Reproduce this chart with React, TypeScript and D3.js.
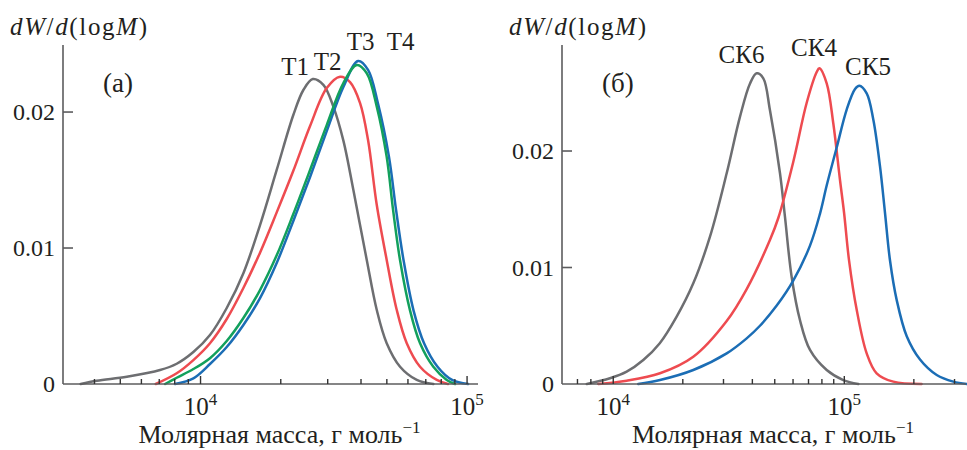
import { useEffect, useRef } from "react";
import * as d3 from "d3";

type Pt = [number, number];

// panel (а): molar mass, g/mol -> dW/d(logM)
const T1: Pt[] = [
  [3550, 0], [4080, 0.00024], [5290, 0.00054], [7050, 0.00103], [8140, 0.00149],
  [9400, 0.00235], [10850, 0.0036], [12540, 0.00559], [14480, 0.00815], [16720, 0.01169],
  [19310, 0.01574], [22290, 0.01978], [24310, 0.02162], [26360, 0.02243], [28900, 0.0220],
  [31500, 0.0204], [34350, 0.0179], [37450, 0.01426], [39340, 0.01206], [42040, 0.00912],
  [45840, 0.00544], [49940, 0.0030], [56050, 0.00127], [64750, 0.0003], [74720, 0],
];
const T2: Pt[] = [
  [6790, 0], [8140, 0.00079], [9400, 0.00176], [10850, 0.0030], [12540, 0.00478],
  [14480, 0.00706], [16720, 0.00966], [19310, 0.01262], [22290, 0.01568], [25760, 0.01897],
  [29750, 0.02176], [33380, 0.0226], [36390, 0.0222], [39680, 0.02066], [42510, 0.01794],
  [45840, 0.01316], [49940, 0.00912], [54480, 0.00544], [59390, 0.0030], [66620, 0.00127],
  [76950, 0.0003], [84840, 0],
];
const T3: Pt[] = [
  [7360, 0], [8140, 0.00046], [9400, 0.0011], [10850, 0.0019], [12540, 0.00316],
  [14480, 0.00485], [16720, 0.00691], [19310, 0.00946], [22290, 0.0125], [25760, 0.01574],
  [29750, 0.01904], [34350, 0.02213], [38570, 0.02346], [42040, 0.02285], [45840, 0.0204],
  [49940, 0.0167], [52770, 0.0128], [56050, 0.0091], [61110, 0.0054], [66620, 0.0030],
  [74720, 0.00127], [83890, 0.0003], [90150, 0],
];
const T4: Pt[] = [
  [8020, 0], [9400, 0.00042], [10850, 0.00147], [12540, 0.00272], [14480, 0.00434],
  [16720, 0.00632], [19310, 0.0089], [22290, 0.01199], [25760, 0.01522], [29750, 0.0186],
  [34350, 0.02184], [39000, 0.02375], [42510, 0.0231], [46350, 0.0206], [50940, 0.0167],
  [54150, 0.0128], [57770, 0.0091], [62990, 0.0054], [68960, 0.0030], [77480, 0.00127],
  [87850, 0.0003], [100900, 0],
];

// panel (б)
const CK6: Pt[] = [
  [7680, 0], [9680, 0.00049], [11430, 0.00106], [13490, 0.00206], [15900, 0.0035],
  [18810, 0.00578], [22200, 0.00864], [26220, 0.01265], [30970, 0.01809], [35370, 0.02295],
  [39080, 0.0258], [41770, 0.02667], [44610, 0.02624], [47650, 0.02352], [52680, 0.01809],
  [55350, 0.01436], [59160, 0.00921], [64270, 0.00549], [71050, 0.00292], [83900, 0.0012],
  [99000, 0.00034], [115000, 0],
];
const CK4: Pt[] = [
  [8610, 0], [11430, 0.00028], [15930, 0.00092], [22200, 0.00234], [30970, 0.00541],
  [37800, 0.00815], [47650, 0.01236], [51800, 0.01425], [60120, 0.01906], [68700, 0.02412],
  [75950, 0.02678], [77970, 0.0271], [83900, 0.02581], [89600, 0.02238], [95800, 0.01751],
  [99800, 0.01468], [104800, 0.01064], [113200, 0.00635], [125000, 0.00263], [138000, 0.00092],
  [163000, 0.0002], [216000, 0],
];
const CK5: Pt[] = [
  [12830, 0], [15930, 0.00034], [22200, 0.0012], [30970, 0.00263], [37800, 0.00392],
  [43150, 0.0050], [51000, 0.00673], [60120, 0.00887], [71050, 0.01188], [78500, 0.01463],
  [83900, 0.01704], [92700, 0.0203], [102400, 0.02356], [111300, 0.02532], [116100, 0.0256],
  [125000, 0.02495], [133500, 0.0227], [142700, 0.0187], [150000, 0.0147], [157700, 0.0106],
  [168600, 0.0072], [186300, 0.0041], [212700, 0.0021], [251200, 0.00077], [296500, 0.0002],
  [339000, 0],
];

const Y_TICKS = [0, 0.01, 0.02];
const Y_TICK_LABELS = ["0", "0.01", "0.02"];
const X_MAJOR = [1e4, 1e5];
const X_MAJOR_EXP = ["4", "5"];

const GRAY = "#6d6e71";
const RED = "#ee4b50";
const GREEN = "#12a05c";
const BLUE = "#1b6db5";

const PANELS = [
  {
    tag: "(а)",
    x0: 63, x1: 478, yBase: 384, yTop: 45,
    xDomain: [3048, 109900],
    yMax: 0.02493,
    series: [
      { data: T1, color: GRAY },
      { data: T2, color: RED },
      { data: T4, color: BLUE },
      { data: T3, color: GREEN },
    ],
    labels: [
      { text: "T1", m: 22630, v: 0.02272 },
      { text: "T2", m: 29960, v: 0.02309 },
      { text: "T3", m: 39850, v: 0.02456 },
      { text: "T4", m: 56300, v: 0.02456 },
    ],
  },
  {
    tag: "(б)",
    x0: 562, x1: 966, yBase: 384, yTop: 45,
    xDomain: [6000, 336300],
    yMax: 0.0291,
    series: [
      { data: CK6, color: GRAY },
      { data: CK4, color: RED },
      { data: CK5, color: BLUE },
    ],
    labels: [
      { text: "СК6", m: 35890, v: 0.02755 },
      { text: "СК4", m: 73950, v: 0.02815 },
      { text: "СК5", m: 126600, v: 0.02652 },
    ],
  },
];

const FONT = "'Liberation Serif', 'Times New Roman', serif";
const INK = "#231f20";
const AXIS = "#5c5c5e";

export default function App() {
  const ref = useRef<SVGSVGElement>(null);

  useEffect(() => {
    const svg = d3.select(ref.current);
    svg.selectAll("*").remove();
    svg.style("font-family", FONT);

    PANELS.forEach((p) => {
      const g = svg.append("g");
      const x = d3.scaleLog().domain(p.xDomain).range([p.x0, p.x1]);
      const y = d3.scaleLinear().domain([0, p.yMax]).range([p.yBase, p.yTop]);

      // curves
      p.series.forEach((s) => {
        const line = d3
          .line<Pt>()
          .x((d) => x(d[0]))
          .y((d) => Math.min(p.yBase, y(d[1])))
          .curve(d3.curveCatmullRom.alpha(0.5));
        g.append("path")
          .datum(s.data)
          .attr("fill", "none")
          .attr("stroke", s.color)
          .attr("stroke-width", 2.5)
          .attr("stroke-linecap", "round")
          .attr("d", line);
      });

      // axis lines
      g.append("line")
        .attr("x1", p.x0).attr("x2", p.x0)
        .attr("y1", p.yTop).attr("y2", p.yBase)
        .attr("stroke", AXIS).attr("stroke-width", 1.6);
      g.append("line")
        .attr("x1", p.x0).attr("x2", p.x1)
        .attr("y1", p.yBase).attr("y2", p.yBase)
        .attr("stroke", AXIS).attr("stroke-width", 1.6);

      // y ticks
      Y_TICKS.forEach((t, i) => {
        if (t > 0) {
          g.append("line")
            .attr("x1", p.x0).attr("x2", p.x0 + 10)
            .attr("y1", y(t)).attr("y2", y(t))
            .attr("stroke", AXIS).attr("stroke-width", 1.6);
        }
        g.append("text")
          .attr("x", p.x0 - 8)
          .attr("y", y(t))
          .attr("dy", "0.35em")
          .attr("text-anchor", "end")
          .attr("font-size", 24)
          .attr("fill", INK)
          .text(Y_TICK_LABELS[i]);
      });

      // x ticks (log decades)
      const [lo, hi] = p.xDomain;
      for (let dec = 1e3; dec <= 1e5; dec *= 10) {
        for (let k = 1; k <= 9; k++) {
          const m = k * dec;
          if (m <= lo || m >= hi) continue;
          const len = k === 1 ? 8 : 5;
          g.append("line")
            .attr("x1", x(m)).attr("x2", x(m))
            .attr("y1", p.yBase).attr("y2", p.yBase - len)
            .attr("stroke", "#333").attr("stroke-width", 1.4);
        }
      }
      X_MAJOR.forEach((m, i) => {
        const t = g.append("text")
          .attr("x", x(m))
          .attr("y", 415)
          .attr("text-anchor", "middle")
          .attr("font-size", 25)
          .attr("fill", INK);
        t.append("tspan").text("10");
        t.append("tspan").attr("dy", -10).attr("font-size", 17).text(X_MAJOR_EXP[i]);
      });

      // x title
      const xt = g.append("text")
        .attr("x", (p.x0 + p.x1) / 2 + 9)
        .attr("y", 443)
        .attr("text-anchor", "middle")
        .attr("font-size", 26)
        .attr("fill", INK);
      xt.append("tspan").text("Молярная масса, г моль");
      xt.append("tspan").attr("dy", -10).attr("font-size", 17).text("−1");

      // y title
      const yt = g.append("text")
        .attr("x", p.x0 - 53)
        .attr("y", 35)
        .attr("font-size", 25)
        .attr("textLength", 137)
        .attr("lengthAdjust", "spacing")
        .attr("fill", INK);
      yt.append("tspan").attr("font-style", "italic").text("dW");
      yt.append("tspan").text("/");
      yt.append("tspan").attr("font-style", "italic").text("d");
      yt.append("tspan").text("(log");
      yt.append("tspan").attr("font-style", "italic").text("M");
      yt.append("tspan").text(")");

      // panel tag
      g.append("text")
        .attr("x", p.x0 + 40)
        .attr("y", 92)
        .attr("font-size", 27)
        .attr("fill", INK)
        .text(p.tag);

      // curve labels
      p.labels.forEach((l) => {
        g.append("text")
          .attr("x", x(l.m))
          .attr("y", y(l.v))
          .attr("text-anchor", "middle")
          .attr("font-size", 25)
          .attr("fill", INK)
          .text(l.text);
      });
    });
  }, []);

  return (
    <svg
      ref={ref}
      width={967}
      height={450}
      style={{ position: "absolute", left: 0, top: 0, background: "#fff" }}
    />
  );
}
